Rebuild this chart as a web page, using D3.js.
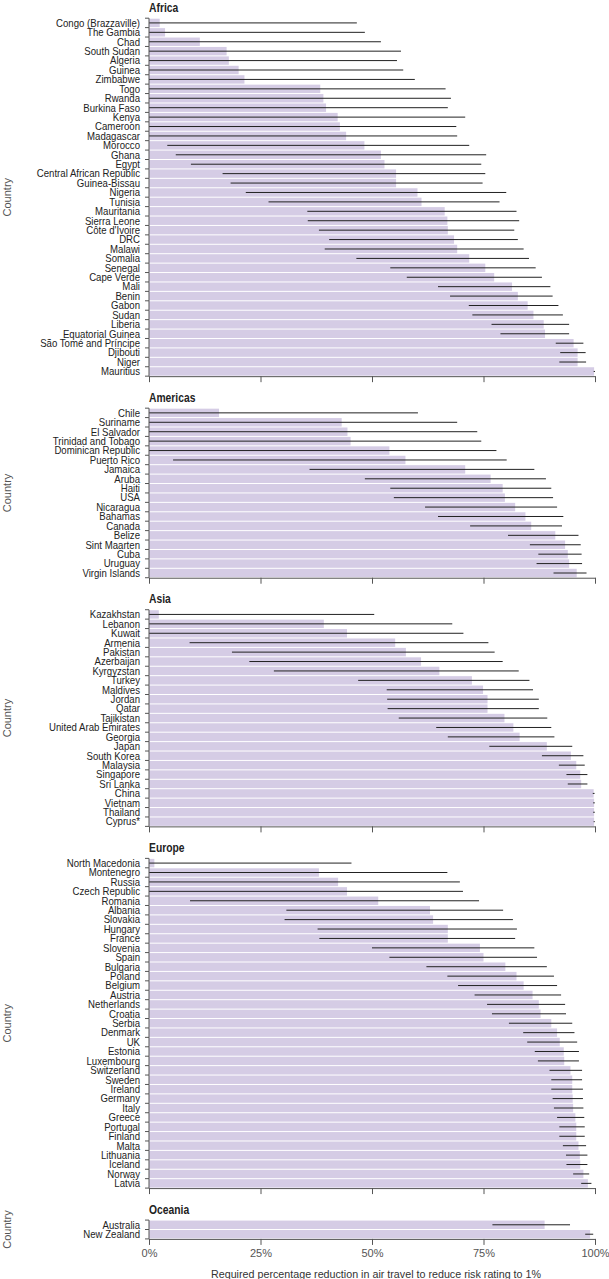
<!DOCTYPE html>
<html>
<head>
<meta charset="utf-8">
<script src="https://cdn.jsdelivr.net/npm/d3@7"></script>
<style>
  html, body { margin: 0; padding: 0; background: #fff; }
  svg { display: block; }
</style>
</head>
<body>
<svg id="chart" width="609" height="1279"></svg>
<script>
// ---------------- DATA ----------------
const regionNames = ["Africa", "Americas", "Asia", "Europe", "Oceania"];

const africaCountries = ["Congo (Brazzaville)", "The Gambia", "Chad", "South Sudan", "Algeria", "Guinea", "Zimbabwe", "Togo", "Rwanda", "Burkina Faso", "Kenya", "Cameroon", "Madagascar", "Morocco", "Ghana", "Egypt", "Central African Republic", "Guinea-Bissau", "Nigeria", "Tunisia", "Mauritania", "Sierra Leone", "Côte d'Ivoire", "DRC", "Malawi", "Somalia", "Senegal", "Cape Verde", "Mali", "Benin", "Gabon", "Sudan", "Liberia", "Equatorial Guinea", "São Tomé and Príncipe", "Djibouti", "Niger", "Mauritius"];
const africaReduction = [2.4, 3.6, 11.4, 17.4, 17.9, 20.1, 21.4, 38.4, 39.1, 39.7, 42.3, 42.8, 44.2, 48.3, 52.0, 52.8, 55.4, 55.4, 60.2, 61.1, 66.3, 66.9, 67.0, 68.4, 69.1, 71.8, 75.4, 77.4, 81.4, 82.7, 84.9, 86.2, 88.5, 88.8, 95.2, 96.1, 96.1, 99.8];
const africaLower = [0, 0, 0, 0, 0, 0, 0, 0, 0, 0, 0, 0, 0, 4.1, 6.0, 9.4, 16.5, 18.3, 21.7, 26.8, 35.5, 35.6, 38.1, 40.4, 39.4, 46.5, 54.1, 57.8, 64.8, 67.5, 71.7, 72.5, 76.8, 78.8, 91.2, 92.2, 92.0, 99.7];
const africaUpper = [46.6, 48.4, 52.0, 56.5, 55.6, 57.0, 59.6, 66.5, 67.7, 67.0, 70.9, 68.9, 69.1, 71.8, 75.6, 74.5, 75.4, 74.8, 80.1, 78.6, 82.4, 83.0, 81.9, 82.7, 84.0, 85.2, 86.7, 88.1, 90.0, 90.5, 91.8, 92.8, 94.2, 94.2, 97.4, 97.9, 98.0, 100];

const americasCountries = ["Chile", "Suriname", "El Salvador", "Trinidad and Tobago", "Dominican Republic", "Puerto Rico", "Jamaica", "Aruba", "Haiti", "USA", "Nicaragua", "Bahamas", "Canada", "Belize", "Sint Maarten", "Cuba", "Uruguay", "Virgin Islands"];
const americasReduction = [15.7, 43.2, 44.5, 45.2, 53.9, 57.5, 70.9, 76.6, 79.3, 79.8, 82.1, 84.4, 85.7, 91.1, 93.3, 93.9, 94.2, 95.9];
const americasLower = [0, 0, 0, 0, 0, 5.4, 36.0, 48.4, 54.1, 54.9, 61.9, 64.8, 72.0, 80.5, 85.4, 87.3, 86.9, 90.7];
const americasUpper = [60.3, 69.1, 73.6, 74.5, 77.9, 80.2, 86.4, 89.0, 90.2, 90.6, 91.5, 92.9, 92.6, 96.3, 96.8, 97.0, 97.1, 98.1];

const asiaCountries = ["Kazakhstan", "Lebanon", "Kuwait", "Armenia", "Pakistan", "Azerbaijan", "Kyrgyzstan", "Turkey", "Maldives", "Jordan", "Qatar", "Tajikistan", "United Arab Emirates", "Georgia", "Japan", "South Korea", "Malaysia", "Singapore", "Sri Lanka", "China", "Vietnam", "Thailand", "Cyprus*"];
const asiaReduction = [2.2, 39.2, 44.4, 55.2, 57.6, 61.0, 65.1, 72.4, 74.9, 75.9, 75.9, 79.7, 81.7, 83.1, 89.2, 94.6, 95.8, 96.7, 96.9, 99.7, 99.8, 99.8, 99.8];
const asiaLower = [0, 0, 0, 9.1, 18.6, 22.5, 28.0, 46.9, 53.3, 53.4, 53.5, 56.0, 64.4, 67.0, 76.3, 88.1, 91.9, 93.6, 93.9, 99.5, 99.6, 99.6, 99.7];
const asiaUpper = [50.5, 68.0, 70.5, 76.1, 77.5, 79.3, 82.9, 85.3, 86.1, 87.4, 87.4, 89.3, 90.2, 90.9, 94.9, 97.4, 97.7, 98.3, 98.3, 99.9, 99.95, 99.95, 99.95];

const europeCountries = ["North Macedonia", "Montenegro", "Russia", "Czech Republic", "Romania", "Albania", "Slovakia", "Hungary", "France", "Slovenia", "Spain", "Bulgaria", "Poland", "Belgium", "Austria", "Netherlands", "Croatia", "Serbia", "Denmark", "UK", "Estonia", "Luxembourg", "Switzerland", "Sweden", "Ireland", "Germany", "Italy", "Greece", "Portugal", "Finland", "Malta", "Lithuania", "Iceland", "Norway", "Latvia"];
const europeReduction = [1.2, 38.1, 42.4, 44.4, 51.4, 63.0, 63.7, 67.0, 67.0, 74.2, 75.0, 79.9, 82.4, 84.0, 86.0, 87.4, 87.8, 90.2, 91.5, 92.1, 93.0, 93.1, 94.5, 94.9, 94.9, 95.0, 95.1, 95.6, 95.8, 95.8, 96.3, 96.6, 96.7, 97.4, 98.4];
const europeLower = [0, 0, 0, 0, 9.2, 30.8, 30.4, 37.8, 38.2, 50.0, 53.9, 62.2, 66.9, 69.3, 73.0, 75.8, 76.9, 80.7, 83.9, 84.8, 86.5, 87.2, 89.8, 90.2, 90.2, 90.5, 90.8, 91.5, 92.0, 92.0, 92.8, 93.5, 93.6, 95.1, 96.9];
const europeUpper = [45.4, 66.9, 69.7, 70.4, 74.0, 79.4, 81.6, 82.5, 82.1, 86.4, 87.0, 89.2, 90.8, 91.5, 92.4, 93.3, 93.5, 94.9, 95.4, 96.0, 96.4, 96.4, 97.1, 97.1, 97.3, 97.3, 97.4, 97.6, 97.7, 97.7, 98.0, 98.3, 98.3, 98.7, 99.2];

const oceaniaCountries = ["Australia", "New Zealand"];
const oceaniaReduction = [88.7, 98.9];
const oceaniaLower = [77.0, 97.8];
const oceaniaUpper = [94.4, 99.6];

const xTickValues = [0, 25, 50, 75, 100];
const xTickLabels = ["0%", "25%", "50%", "75%", "100%"];
const yAxisTitle = "Country";
const xAxisTitle = "Required percentage reduction in air travel to reduce risk rating to 1%";

// ---------------- LAYOUT ----------------
const BAND = 9.42, GAP = 32, TOP0 = 18.2;
const X0 = 149, X1 = 595;
const BAR_COLOR = "#d5cce5";
const INK = "#222";
const AXIS = "#555";
const FONT = '"Liberation Sans", Arial, sans-serif';
const SX = 0.86;            // horizontal condensing of label text
const LABEL_SIZE = 11.2;

const panels = [
  { name: regionNames[0], countries: africaCountries, value: africaReduction, lo: africaLower, hi: africaUpper },
  { name: regionNames[1], countries: americasCountries, value: americasReduction, lo: americasLower, hi: americasUpper },
  { name: regionNames[2], countries: asiaCountries, value: asiaReduction, lo: asiaLower, hi: asiaUpper },
  { name: regionNames[3], countries: europeCountries, value: europeReduction, lo: europeLower, hi: europeUpper },
  { name: regionNames[4], countries: oceaniaCountries, value: oceaniaReduction, lo: oceaniaLower, hi: oceaniaUpper }
];

const svg = d3.select("#chart");
const x = d3.scaleLinear().domain([0, 100]).range([X0, X1]);

let panelTop = TOP0;
panels.forEach((p, pi) => {
  const n = p.countries.length;
  const panelBottom = panelTop + n * BAND;
  const y = d3.scaleBand().domain(p.countries).range([panelTop, panelBottom]).paddingInner(0).paddingOuter(0);
  const g = svg.append("g").attr("class", "panel");
  const rows = p.countries.map((c, i) => ({ c, v: p.value[i], lo: p.lo[i], hi: p.hi[i] }));

  g.selectAll("rect.bar").data(rows).join("rect")
    .attr("class", "bar")
    .attr("x", x(0))
    .attr("y", d => y(d.c) + 0.5)
    .attr("width", d => x(d.v) - x(0))
    .attr("height", y.bandwidth() - 1)
    .attr("fill", BAR_COLOR);

  g.selectAll("line.err").data(rows).join("line")
    .attr("class", "err")
    .attr("x1", d => x(d.lo))
    .attr("x2", d => x(d.hi))
    .attr("y1", d => y(d.c) + y.bandwidth() / 2)
    .attr("y2", d => y(d.c) + y.bandwidth() / 2)
    .attr("stroke", INK)
    .attr("stroke-width", 1);

  const yAxis = d3.axisLeft(y).tickSize(0).tickPadding(9);
  const ya = g.append("g").attr("transform", `translate(${X0},0)`).call(yAxis);
  ya.select(".domain").remove();
  ya.selectAll("text")
    .attr("font-family", FONT)
    .attr("font-size", LABEL_SIZE)
    .attr("fill", "#222")
    .attr("x", -9 / SX)
    .attr("dy", "0.34em")
    .attr("transform", `scale(${SX},1)`);

  const edges = p.countries.map(c => y(c)).concat([panelBottom]);
  g.append("line").attr("x1", X0).attr("x2", X0).attr("y1", panelTop).attr("y2", panelBottom)
    .attr("stroke", AXIS).attr("stroke-width", 1);
  g.selectAll("line.ytick").data(edges).join("line")
    .attr("class", "ytick")
    .attr("x1", X0 - 4).attr("x2", X0)
    .attr("y1", d => d).attr("y2", d => d)
    .attr("stroke", AXIS).attr("stroke-width", 1);

  const last = pi === panels.length - 1;
  const xAxis = d3.axisBottom(x).tickValues(xTickValues).tickSizeInner(6).tickSizeOuter(0).tickPadding(4)
    .tickFormat((d, i) => last ? xTickLabels[i] : "");
  const xa = g.append("g").attr("transform", `translate(0,${panelBottom})`).call(xAxis);
  xa.select(".domain").attr("stroke", AXIS);
  xa.selectAll(".tick line").attr("stroke", AXIS);
  xa.selectAll("text").attr("font-family", FONT).attr("font-size", 11).attr("fill", "#555");

  g.append("text")
    .attr("transform", `translate(${X0},${panelTop - 6.5}) scale(${SX},1)`)
    .attr("font-family", FONT).attr("font-weight", "bold").attr("font-size", 12)
    .attr("fill", "#222").text(p.name);

  const cy = (panelTop + panelBottom) / 2;
  g.append("text")
    .attr("transform", `translate(11,${cy}) rotate(-90)`)
    .attr("text-anchor", "middle")
    .attr("font-family", FONT).attr("font-size", 11).attr("fill", "#555")
    .text(yAxisTitle);

  if (last) {
    svg.append("text").attr("x", 376).attr("y", panelBottom + 39)
      .attr("text-anchor", "middle")
      .attr("font-family", FONT).attr("font-size", 11.5).attr("fill", "#333")
      .attr("textLength", 330).attr("lengthAdjust", "spacingAndGlyphs")
      .text(xAxisTitle);
  }
  panelTop = panelBottom + GAP;
});
</script>
</body>
</html>
